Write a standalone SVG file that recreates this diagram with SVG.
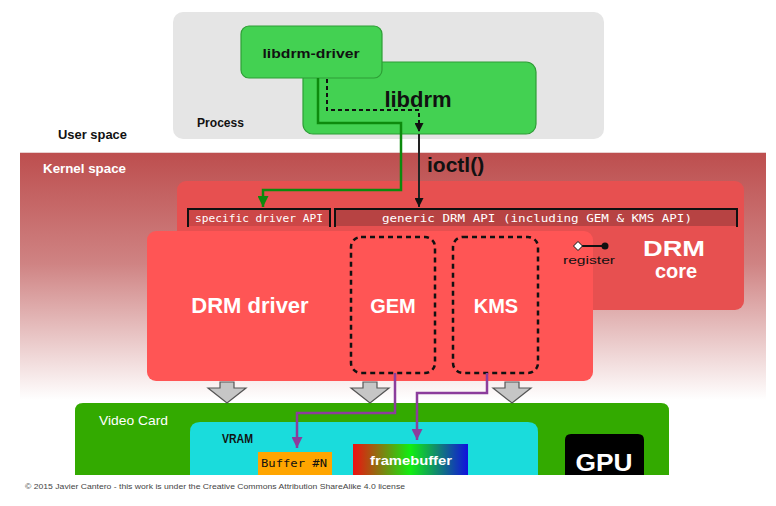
<svg xmlns="http://www.w3.org/2000/svg" width="776" height="506" viewBox="0 0 776 506">
<defs>
<linearGradient id="kgrad" x1="0" y1="0" x2="0" y2="1">
<stop offset="0" stop-color="#bd4e4e"/>
<stop offset="0.45" stop-color="#cf8383"/>
<stop offset="1" stop-color="#ffffff"/>
</linearGradient>
<linearGradient id="fbgrad" x1="0" y1="0" x2="1" y2="0">
<stop offset="0" stop-color="#ee1111"/>
<stop offset="0.5" stop-color="#11ee11"/>
<stop offset="1" stop-color="#1111dd"/>
</linearGradient>
<marker id="ah-green" viewBox="0 0 10 10" refX="10" refY="5" markerWidth="11" markerHeight="11" markerUnits="userSpaceOnUse" orient="auto"><path d="M0,0 L10,5 L0,10 z" fill="#0d8a0d"/></marker>
<marker id="ah-black" viewBox="0 0 10 10" refX="10" refY="5" markerWidth="9" markerHeight="9" markerUnits="userSpaceOnUse" orient="auto"><path d="M0,0 L10,5 L0,10 z" fill="#111"/></marker>
<marker id="ah-purple" viewBox="0 0 10 10" refX="10" refY="5" markerWidth="11" markerHeight="11" markerUnits="userSpaceOnUse" orient="auto"><path d="M0,0 L10,5 L0,10 z" fill="#8c3d9c"/></marker>
<path id="gray-arrow" d="M-7,0 H7 V6 H19 L0,21 L-19,6 H-7 Z"/>
</defs>
<style>
text{font-family:"Liberation Sans","DejaVu Sans",Arial,sans-serif}
.b{font-weight:bold}
.mono{font-family:"DejaVu Sans Mono","Liberation Mono",monospace}
.w{fill:#ffffff}
.k{fill:#111111}
.green{fill:#43d152;stroke:#2e9e36;stroke-width:1.2}
.dash{fill:none;stroke:#111;stroke-width:2.5;stroke-dasharray:5,4}
.ga{fill:#c6c6c6;stroke:#555;stroke-width:1.2}
.conn-green{fill:none;stroke:#0d8a0d;stroke-width:2.5}
.conn-black{fill:none;stroke:#222;stroke-width:2}
.conn-purple{fill:none;stroke:#8c3d9c;stroke-width:2.5}
</style>
<rect width="776" height="506" fill="#ffffff"/>
<g id="kernel-space">
<rect x="20" y="152" width="746" height="248" fill="url(#kgrad)"/>
<line x1="20" y1="152.5" x2="766" y2="152.5" stroke="#e9d0d0" stroke-width="1"/>
<text x="43" y="173" font-size="12.5" class="b w" textLength="83" lengthAdjust="spacingAndGlyphs">Kernel space</text>
</g>
<g id="user-space">
<text x="58" y="139" font-size="12.5" class="b k" textLength="69" lengthAdjust="spacingAndGlyphs">User space</text>
</g>
<g id="process">
<rect x="173" y="12" width="431" height="127" rx="10" fill="#e5e5e5"/>
<text x="197" y="127" font-size="13" class="b k" textLength="47" lengthAdjust="spacingAndGlyphs">Process</text>
</g>
<g id="libdrm">
<rect x="303" y="62" width="233" height="72" rx="10" class="green"/>
<text x="418" y="107" font-size="22" class="b k" text-anchor="middle">libdrm</text>
</g>
<g id="libdrm-driver">
<rect x="241" y="26" width="141" height="52" rx="8" class="green"/>
<text x="311" y="58" font-size="13" class="b k" text-anchor="middle" textLength="97" lengthAdjust="spacingAndGlyphs">libdrm-driver</text>
</g>
<g id="drm-core">
<rect x="177" y="181" width="567" height="129" rx="9" fill="#e75050"/>
<rect x="189" y="210" width="140" height="16" fill="#cc4747"/>
<rect x="336" y="210" width="400" height="16" fill="#b74343"/>
<path d="M188,227 V209 H330 V227 M335,227 V209 H737 V227" fill="none" stroke="#111" stroke-width="2"/>
<text x="195" y="222" font-size="11" class="mono w" textLength="128" lengthAdjust="spacingAndGlyphs">specific driver API</text>
<text x="382" y="222" font-size="11" class="mono w" textLength="310" lengthAdjust="spacingAndGlyphs">generic DRM API (including GEM &amp; KMS API)</text>
<text x="674" y="256" font-size="22" class="b w" text-anchor="middle" textLength="62" lengthAdjust="spacingAndGlyphs">DRM</text>
<text x="676" y="278" font-size="20" class="b w" text-anchor="middle">core</text>
</g>
<g id="drm-driver">
<rect x="147" y="231" width="446" height="150" rx="9" fill="#ff5555"/>
<text x="250" y="313" font-size="22" class="b w" text-anchor="middle">DRM driver</text>
</g>
<g id="register">
<line x1="578" y1="246" x2="605" y2="246" stroke="#111" stroke-width="2"/>
<circle cx="605" cy="246" r="3.5" fill="#111"/>
<path d="M578,241.5 L582.5,246 L578,250.5 L573.5,246 Z" fill="#ffffff" stroke="#111" stroke-width="1"/>
<text x="589" y="264" font-size="10.5" class="k" text-anchor="middle" textLength="52" lengthAdjust="spacingAndGlyphs">register</text>
</g>
<g id="gem">
<rect x="351" y="237" width="84" height="136" rx="10" class="dash"/>
<text x="393" y="313" font-size="20" class="b w" text-anchor="middle">GEM</text>
</g>
<g id="kms">
<rect x="453" y="237" width="85" height="136" rx="10" class="dash"/>
<text x="496" y="313" font-size="20" class="b w" text-anchor="middle">KMS</text>
</g>
<g id="video-card">
<path d="M75,475 V411 Q75,403 83,403 H661 Q669,403 669,411 V475 Z" fill="#33aa00"/>
<text x="99" y="425" font-size="13" class="w" textLength="69" lengthAdjust="spacingAndGlyphs">Video Card</text>
</g>
<g id="vram">
<path d="M190,475 V432 Q190,422 200,422 H528 Q538,422 538,432 V475 Z" fill="#1adcdc"/>
<text x="222" y="443" font-size="12.5" class="b k" textLength="31" lengthAdjust="spacingAndGlyphs">VRAM</text>
</g>
<g id="buffer-n">
<rect x="258" y="452" width="74" height="23" fill="#ffa500"/>
<text x="261" y="467" font-size="11" class="mono k" textLength="66" lengthAdjust="spacingAndGlyphs">Buffer #N</text>
</g>
<g id="framebuffer">
<rect x="353" y="444" width="115" height="31" fill="url(#fbgrad)"/>
<text x="370" y="465" font-size="13" class="b w" textLength="82" lengthAdjust="spacingAndGlyphs">framebuffer</text>
</g>
<g id="gpu">
<path d="M565,475 V440 Q565,434 571,434 H638 Q644,434 644,440 V475 Z" fill="#000000"/>
<text x="604" y="471" font-size="23" class="b w" text-anchor="middle" textLength="57" lengthAdjust="spacingAndGlyphs">GPU</text>
</g>
<g id="connectors">
<path d="M318,78 V123 H401 V190 H263 V207" class="conn-green" marker-end="url(#ah-green)"/>
<path d="M327,79 V110 H419 V132" fill="none" stroke="#111" stroke-width="2" stroke-dasharray="4,3" marker-end="url(#ah-black)"/>
<path d="M419,134 V207" class="conn-black" marker-end="url(#ah-black)"/>
<text x="427" y="172" font-size="21" class="b k">ioctl()</text>
<use href="#gray-arrow" x="227" y="382" class="ga"/>
<use href="#gray-arrow" x="370" y="382" class="ga"/>
<use href="#gray-arrow" x="512" y="382" class="ga"/>
<path d="M395,373 V413 H297 V448" class="conn-purple" marker-end="url(#ah-purple)"/>
<path d="M487,373 V393 H417 V440" class="conn-purple" marker-end="url(#ah-purple)"/>
</g>
<g id="footer">
<rect x="0" y="475" width="776" height="31" fill="#ffffff"/>
<text x="25" y="489" font-size="8" fill="#444" textLength="380" lengthAdjust="spacingAndGlyphs">© 2015 Javier Cantero - this work is under the Creative Commons Attribution ShareAlike 4.0 license</text>
</g>
</svg>
